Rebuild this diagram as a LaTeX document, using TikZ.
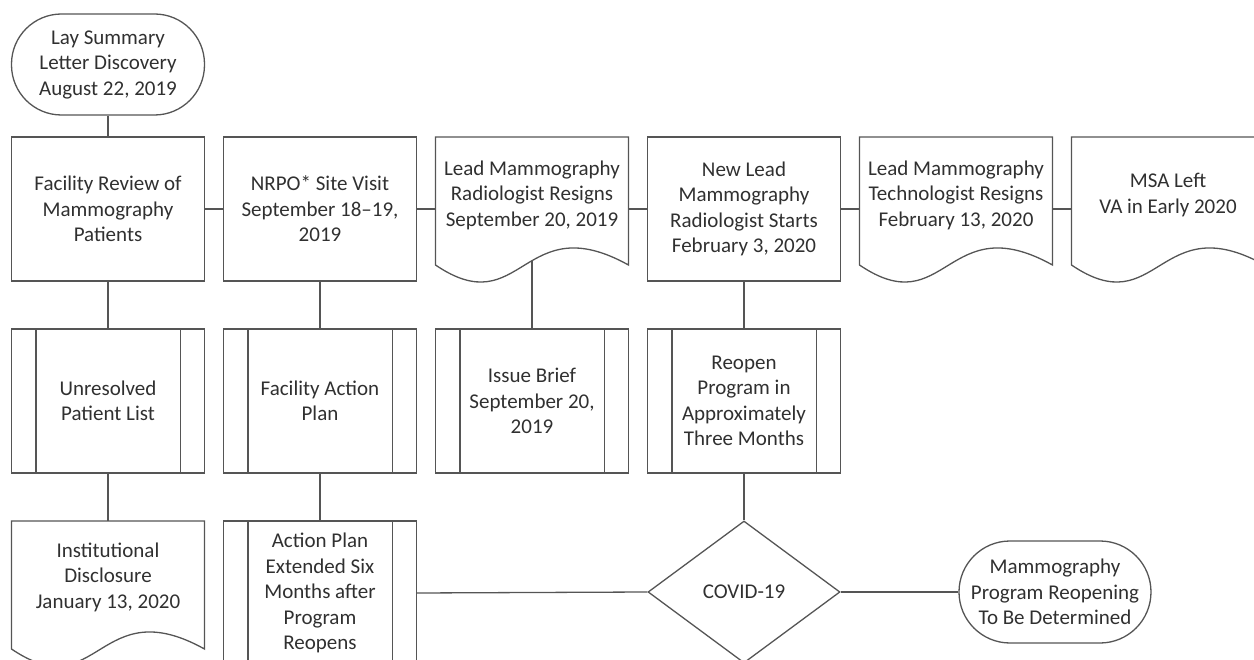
\documentclass[tikz,border=0pt]{standalone}
\usepackage{fontspec}
\setmainfont{Carlito}
\usetikzlibrary{shapes.geometric}
\definecolor{linec}{HTML}{555555}
\definecolor{textc}{HTML}{303030}
\tikzset{
  ln/.style={draw=linec, line width=1.3pt},
  txt/.style={text=textc, font=\fontsize{21}{25.5}\selectfont, align=center, inner sep=0pt},
  boxn/.style={ln, txt, rectangle, minimum width=193pt, minimum height=144pt},
  procn/.style={boxn},
  docn/.style={rectangle, minimum width=193pt, minimum height=144pt, inner sep=0pt},
  termn/.style={ln, txt, rectangle, rounded corners=50pt, minimum width=193pt, minimum height=101pt},
  decn/.style={ln, txt, diamond, minimum width=192pt, minimum height=142pt},
}
\newcommand\proclines[1]{\draw[ln] ([xshift=25pt]#1.north west) -- ([xshift=25pt]#1.south west) ([xshift=-25pt]#1.north east) -- ([xshift=-25pt]#1.south east);}
\newcommand\docoutline[2]{\draw[ln, shift={(#1,#2)}] (-96.5,128) -- (-96.5,0) -- (96.5,0) -- (96.5,128) .. controls (-9.65,69) and (-9.65,187) .. (-96.5,128) -- cycle;}
\begin{document}
\begin{tikzpicture}[x=1pt,y=-1pt]
\useasboundingbox (0,0) rectangle (1254,660);
\clip (0,0) rectangle (1254,660);
% top terminator
\node[termn] (t1) at (108,64.5) {Lay Summary\\Letter Discovery\\August 22, 2019};
% row 1
\node[boxn] (b1) at (108,209) {Facility Review of\\Mammography\\Patients};
\node[boxn] (b2) at (320,209) {NRPO* Site Visit\\September 18\textendash19,\\2019};
\node[docn] (d3) at (532,209) {};
\docoutline{532}{137}
\node[txt] (d3t) at (532,195) {Lead Mammography\\Radiologist Resigns\\September 20, 2019};
\coordinate (d3w) at (532,261);
\node[boxn] (b4) at (744,209) {New Lead\\Mammography\\Radiologist Starts\\February 3, 2020};
\node[docn] (d5) at (956,209) {};
\docoutline{956}{137}
\node[txt] (d5t) at (956,195) {Lead Mammography\\Technologist Resigns\\February 13, 2020};
\node[docn] (d6) at (1168,209) {};
\docoutline{1168}{137}
\node[txt] (d6t) at (1168,195) {MSA Left\\VA in Early 2020};
% row 2
\node[procn] (p1) at (108,401) {Unresolved\\Patient List};
\proclines{p1}
\node[procn] (p2) at (320,401) {Facility Action\\Plan};
\proclines{p2}
\node[procn] (p3) at (532,401) {Issue Brief\\September 20,\\2019};
\proclines{p3}
\node[procn] (p4) at (744,401) {Reopen\\Program in\\Approximately\\Three Months};
\proclines{p4}
% row 3
\node[docn] (d7) at (108,593) {};
\docoutline{108}{521}
\node[txt] (d7t) at (108,577) {Institutional\\Disclosure\\January 13, 2020};
\node[procn] (p8) at (320,593) {Action Plan\\Extended Six\\Months after\\Program\\Reopens};
\proclines{p8}
\node[decn] (cv) at (744,592) {COVID-19};
\node[termn, minimum width=192pt, minimum height=102pt, rounded corners=51pt] (t2) at (1055,592) {Mammography\\Program Reopening\\To Be Determined};
% connectors
\draw[ln] (t1) -- (b1);
\draw[ln] (b1.east) -- (b2.west);
\draw[ln] (b2.east) -- (d3.west);
\draw[ln] (d3.east) -- (b4.west);
\draw[ln] (b4.east) -- (d5.west);
\draw[ln] (d5.east) -- (d6.west);
\draw[ln] (b1.south) -- (p1.north);
\draw[ln] (b2.south) -- (p2.north);
\draw[ln] (d3w) -- (p3.north);
\draw[ln] (b4.south) -- (p4.north);
\draw[ln] (p1.south) -- (d7.north);
\draw[ln] (p2.south) -- (p8.north);
\draw[ln] (p4.south) -- (cv.north);
\draw[ln] (p8.east) -- (cv.west);
\draw[ln] (cv.east) -- (t2.west);
\end{tikzpicture}
\end{document}
